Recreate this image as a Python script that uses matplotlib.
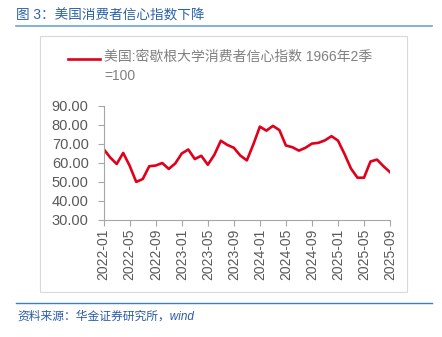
import matplotlib.pyplot as plt
from matplotlib.patches import Rectangle
from matplotlib.lines import Line2D

plt.rcParams['font.family'] = ['Liberation Sans', 'Noto Sans CJK SC']

# monthly index, 2022-01 .. 2025-09
months = ['2022-01', '2022-02', '2022-03', '2022-04', '2022-05', '2022-06',
          '2022-07', '2022-08', '2022-09', '2022-10', '2022-11', '2022-12',
          '2023-01', '2023-02', '2023-03', '2023-04', '2023-05', '2023-06',
          '2023-07', '2023-08', '2023-09', '2023-10', '2023-11', '2023-12',
          '2024-01', '2024-02', '2024-03', '2024-04', '2024-05', '2024-06',
          '2024-07', '2024-08', '2024-09', '2024-10', '2024-11', '2024-12',
          '2025-01', '2025-02', '2025-03', '2025-04', '2025-05', '2025-06',
          '2025-07', '2025-08', '2025-09']
sentiment = [67.2, 62.8, 59.4, 65.2, 58.4, 50.0, 51.5, 58.2, 58.6, 59.9, 56.8, 59.7,
             64.9, 67.0, 62.0, 63.7, 59.0, 64.2, 71.6, 69.4, 67.9, 63.8, 61.3, 69.7,
             79.0, 76.9, 79.4, 77.2, 69.1, 68.2, 66.4, 67.9, 70.1, 70.5, 71.8, 74.0,
             71.7, 64.7, 57.0, 52.2, 52.2, 60.7, 61.7, 58.2, 55.1]
series_label = '美国:密歇根大学消费者信心指数 1966年2季\n=100'

fig = plt.figure(figsize=(4.42, 3.37), dpi=100)
ax = fig.add_axes([0.2346, 0.3472, 0.6478, 0.3392])

x = list(range(len(months)))
ax.plot(x, sentiment, color='#E0001B', lw=1.9, label=series_label)

ax.set_xlim(0, len(months) - 1)
ax.set_ylim(30, 90)
ax.set_yticks(range(30, 91, 10))
ax.set_yticklabels(['%.2f' % v for v in range(30, 91, 10)])
ax.set_xticks(x[::4])
ax.set_xticklabels(months[::4], rotation=90)

for s in ['top', 'right']:
    ax.spines[s].set_visible(False)
for s in ['left', 'bottom']:
    ax.spines[s].set_color('#A6A6A6')
    ax.spines[s].set_linewidth(0.8)
ax.tick_params(colors='#A6A6A6', labelcolor='#595959', labelsize=10,
               length=4, width=0.8, pad=2)
ax.tick_params(axis='y', labelsize=10.5, length=4.3, pad=6.5)

# legend handle + text above the plot
fig.add_artist(Line2D([68 / 442, 100 / 442], [1 - 58.5 / 337] * 2,
                      color='#E0001B', lw=1.9))
fig.text(104 / 442, 1 - 50 / 337, series_label, fontsize=10, color='#808080',
         va='top', ha='left', linespacing=1.45)

# chart frame
fig.patches.append(Rectangle((40 / 442, 1 - 292 / 337), 367 / 442, 256 / 337,
                             transform=fig.transFigure, fill=False,
                             edgecolor='#D9D9D9', lw=0.8))

# title and source
fig.text(16 / 442, 1 - 15 / 337, '图 3：美国消费者信心指数下降', fontsize=9.8,
         color='#2B63A8', va='center', ha='left', fontweight='light')
fig.add_artist(Line2D([16 / 442, 432 / 442], [1 - 25.5 / 337] * 2,
                      color='#6AA6D6', lw=1.2))
fig.add_artist(Line2D([16 / 442, 432 / 442], [1 - 303 / 337] * 2,
                      color='#3E7FC1', lw=1.0))
fig.text(17 / 442, 1 - 317 / 337, '资料来源：华金证券研究所，wind', fontsize=8.5,
         color='#2B5BA8', va='center', ha='left', style='italic')

fig.savefig('out.png', dpi=100)
